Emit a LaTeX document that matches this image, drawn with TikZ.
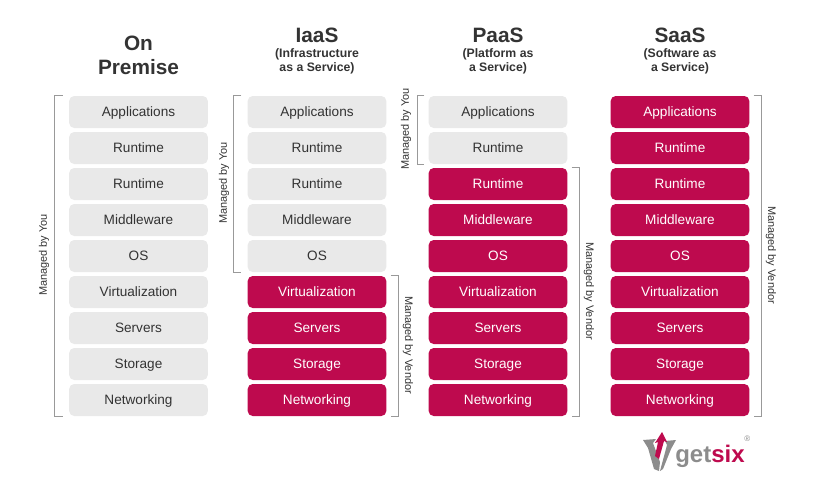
\documentclass[tikz,border=0pt]{standalone}
\usepackage{fontspec}
\setmainfont{Liberation Sans}
\definecolor{crimson}{HTML}{BE0A4E}
\definecolor{lightbox}{HTML}{E9E9E9}
\definecolor{darktext}{HTML}{333333}
\definecolor{brackgray}{HTML}{999999}
\definecolor{logogray}{HTML}{8C8C8C}
\tikzset{
    layer/.style={rounded corners=3.75pt, minimum width=104pt, minimum height=24pt, inner sep=0pt, text height=9pt, text depth=2pt, font=\fontsize{10.2}{12}\selectfont},
    bracket/.style={draw=brackgray, line width=0.7pt},
    sidelabel/.style={text=darktext, inner sep=0pt, font=\fontsize{8.2}{10}\selectfont},
    bigtitle/.style={text=darktext, align=center, inner sep=0pt, font=\fontsize{15.6}{18}\selectfont\bfseries},
    subtitle/.style={text=darktext, align=center, inner sep=0pt, font=\fontsize{9.2}{10.5}\selectfont\bfseries},
}
\begin{document}
\begin{tikzpicture}[x=0.75pt, y=-0.75pt]
    \useasboundingbox (0,0) rectangle (820,482);
    % titles
    \node[bigtitle] (ontitle) at (138.5,55) {On\\Premise};
    \node[bigtitle] (iaastitle) at (317,35) {IaaS};
    \node[subtitle] (iaassub) at (317,61) {(Infrastructure\\as a Service)};
    \node[bigtitle] (paastitle) at (498,35) {PaaS};
    \node[subtitle] (paassub) at (498,61) {(Platform as\\a Service)};
    \node[bigtitle] (saastitle) at (680,35) {SaaS};
    \node[subtitle] (saassub) at (680,61) {(Software as\\a Service)};
    % the stacks
    \foreach \col/\x/\first in {on/138.5/10, iaas/317/6, paas/498/3, saas/680/1} {
        \foreach \r/\txt in {1/Applications, 2/Runtime, 3/Runtime, 4/Middleware, 5/OS, 6/Virtualization, 7/Servers, 8/Storage, 9/Networking} {
            \ifnum\r<\first
                \def\boxfill{lightbox}\def\boxtext{darktext}
            \else
                \def\boxfill{crimson}\def\boxtext{white}
            \fi
            \node[layer, fill=\boxfill, text=\boxtext] (\col\r) at (\x,{76+36*\r}) {\txt};
        }
    }
    % brackets
    \draw[bracket] ([xshift=-4.5pt]on1.north west) -- ++(-8,0) |- ([xshift=-4.5pt]on9.south west);
    \node[sidelabel, rotate=90] (onyou) at (44,255) {Managed by You};
    \draw[bracket] ([xshift=-4.5pt]iaas1.north west) -- ++(-8,0) |- ([xshift=-4.5pt]iaas5.south west);
    \node[sidelabel, rotate=90] (iaasyou) at (224,183) {Managed by You};
    \draw[bracket] ([xshift=3pt]iaas6.north east) -- ++(8,0) |- ([xshift=3pt]iaas9.south east);
    \node[sidelabel, rotate=-90] (iaasvendor) at (408,345) {Managed by Vendor};
    \draw[bracket] ([xshift=-3pt]paas1.north west) -- ++(-7,0) |- ([xshift=-3pt]paas2.south west);
    \node[sidelabel, rotate=90] (paasyou) at (406,129) {Managed by You};
    \draw[bracket] ([xshift=3pt]paas3.north east) -- ++(8,0) |- ([xshift=3pt]paas9.south east);
    \node[sidelabel, rotate=-90] (paasvendor) at (589,291) {Managed by Vendor};
    \draw[bracket] ([xshift=3pt]saas1.north east) -- ++(8,0) |- ([xshift=3pt]saas9.south east);
    \node[sidelabel, rotate=-90] (saasvendor) at (771,255) {Managed by Vendor};
    % logo
    \fill[logogray] (643,440) -- (656,439) -- (653,443) -- (660,462) -- (659,471) -- (654,469) -- (648,448) -- cycle;
    \fill[logogray] (676,440) -- (665,441) -- (667,445) -- (660,471) -- (663,469) -- (671,449) -- cycle;
    \fill[crimson] (662,432) -- (667,442) -- (664,441) -- (659,459) -- (655,456) -- (658,442) -- (655,443) -- cycle;
    \node[anchor=base west, inner sep=0pt, font=\fontsize{18}{20}\selectfont\bfseries] (logotext) at (675,462) {\textcolor{logogray}{get}\textcolor{crimson}{six}};
    \node[anchor=base west, inner sep=0pt, text=logogray, font=\fontsize{6}{7}\selectfont] (logomark) at (744,441) {®};
\end{tikzpicture}
\end{document}
